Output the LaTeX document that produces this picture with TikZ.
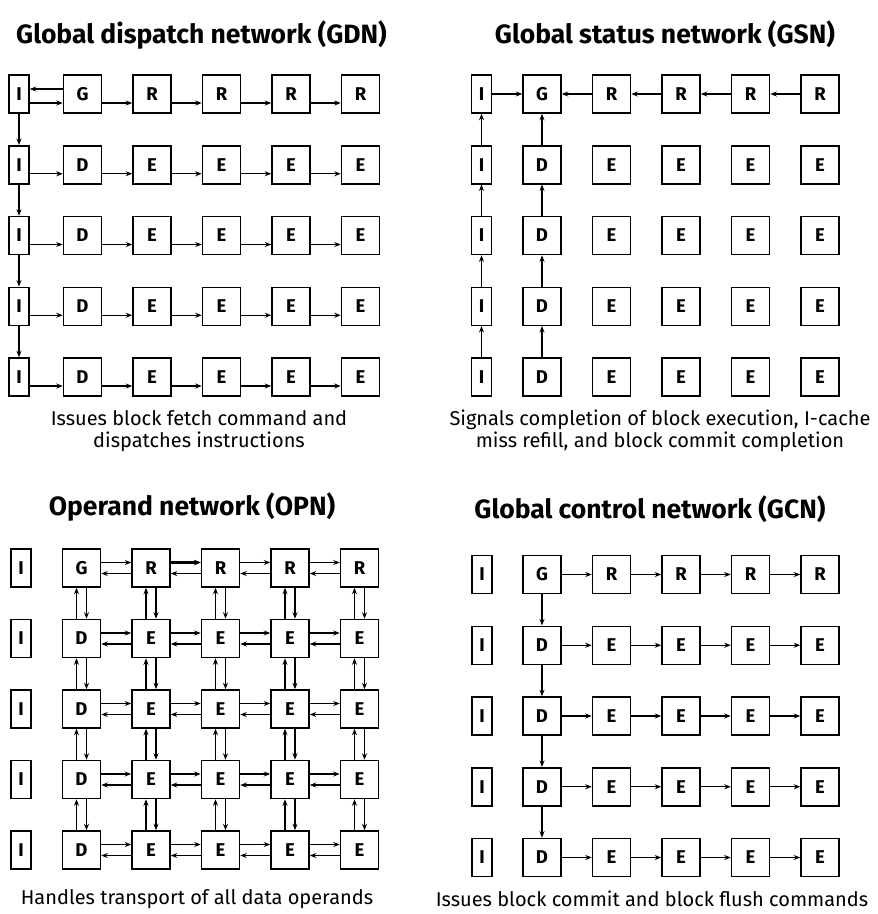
\documentclass[tikz,border=0pt]{standalone}
\usepackage{fontspec}
\setmainfont{Fira Sans}
\usetikzlibrary{arrows.meta}

% one 5x6 grid of tiles: prefix, x of I column, x of first tile, y of first row, row pitch
\newcommand{\tilegrid}[5]{%
  \foreach \r in {1,...,5} {
    \pgfmathsetmacro{\rowy}{#4+(\r-1)*#5}
    \node[itile] (#1-\r-0) at (#2,\rowy) {I};
    \foreach \c in {1,...,5} {
      \pgfmathsetmacro{\colx}{#3+(\c-1)*69.5}
      \node[tile] (#1-\r-\c) at (\colx,\rowy)
        {\ifnum\r=1 \ifnum\c=1 G\else R\fi\else\ifnum\c=1 D\else E\fi\fi};
    }
  }%
}

\begin{document}
\begin{tikzpicture}[
  x=1pt, y=-1pt,
  tile/.style    = {rectangle, draw, line width=1.5pt, minimum width=38pt, minimum height=38pt,
                    inner sep=0pt, font=\fontsize{18.5}{18.5}\selectfont\bfseries},
  itile/.style   = {tile, minimum width=20pt},
  arrow/.style   = {-{Stealth[length=6.5pt, width=5pt]}, line width=1.2pt},
  heavy/.style   = {arrow, line width=2.4pt},
  title/.style   = {font=\fontsize{26.5}{30}\selectfont\bfseries, anchor=base},
  caption/.style = {font=\fontsize{20}{22}\selectfont, align=center},
]
  \useasboundingbox[fill=white] (0,0) rectangle (878,914);

  % titles and captions
  \node[title] (gdn-title) at (201.5,43)  {Global dispatch network (GDN)};
  \node[title] (gsn-title) at (665,43)    {Global status network (GSN)};
  \node[title] (opn-title) at (192,515)   {Operand network (OPN)};
  \node[title] (gcn-title) at (650,518)   {Global control network (GCN)};
  \node[caption] (gdn-text) at (199,431)  {Issues block fetch command and\\dispatches instructions};
  \node[caption] (gsn-text) at (660,431)  {Signals completion of block execution, I-cache\\miss refill, and block commit completion};
  \node[caption] (opn-text) at (197,899)  {Handles transport of all data operands};
  \node[caption] (gcn-text) at (652,899)  {Issues block commit and block flush commands};

  % global dispatch network
  \tilegrid{gdn}{19}{82.5}{94}{70.75}
  \foreach \r in {1,...,5} {
    \foreach \c in {0,...,4} {
      \pgfmathtruncatemacro{\nxt}{\c+1}
      \draw[arrow] ([yshift=-9pt]gdn-\r-\c.east) -- ([yshift=-9pt]gdn-\r-\nxt.west);
    }
  }
  \draw[arrow] ([yshift=5pt]gdn-1-1.west) -- ([yshift=5pt]gdn-1-0.east);
  \foreach \r in {1,...,4} {
    \pgfmathtruncatemacro{\nxt}{\r+1}
    \draw[arrow] (gdn-\r-0) -- (gdn-\nxt-0);
  }

  % global status network
  \tilegrid{gsn}{481.5}{542}{94}{70.75}
  \draw[arrow] (gsn-1-0) -- (gsn-1-1);
  \foreach \c in {1,...,4} {
    \pgfmathtruncatemacro{\nxt}{\c+1}
    \draw[arrow] (gsn-1-\nxt) -- (gsn-1-\c);
  }
  \foreach \r in {1,...,4} {
    \pgfmathtruncatemacro{\nxt}{\r+1}
    \draw[arrow] (gsn-\nxt-0) -- (gsn-\r-0);
    \draw[arrow] (gsn-\nxt-1) -- (gsn-\r-1);
  }

  % operand network
  \tilegrid{opn}{21}{81.5}{568}{70.5}
  \foreach \r in {1,...,5} {
    \foreach \c in {1,...,4} {
      \pgfmathtruncatemacro{\nxt}{\c+1}
      \draw[arrow] ([yshift=5.5pt]opn-\r-\c.east) -- ([yshift=5.5pt]opn-\r-\nxt.west);
      \draw[arrow] ([yshift=-5.5pt]opn-\r-\nxt.west) -- ([yshift=-5.5pt]opn-\r-\c.east);
    }
  }
  \foreach \r in {1,...,4} {
    \foreach \c in {1,...,5} {
      \pgfmathtruncatemacro{\nxt}{\r+1}
      \draw[arrow] ([xshift=-5pt]opn-\nxt-\c.north) -- ([xshift=-5pt]opn-\r-\c.south);
      \draw[arrow] ([xshift=5pt]opn-\r-\c.south) -- ([xshift=5pt]opn-\nxt-\c.north);
    }
  }
  \draw[heavy] ([yshift=5.5pt]opn-1-2.east) -- ([yshift=5.5pt]opn-1-3.west);

  % global control network
  \tilegrid{gcn}{482}{542}{574.5}{70.75}
  \foreach \r in {1,...,5} {
    \foreach \c in {1,...,4} {
      \pgfmathtruncatemacro{\nxt}{\c+1}
      \draw[arrow] (gcn-\r-\c) -- (gcn-\r-\nxt);
    }
  }
  \foreach \r in {1,...,4} {
    \pgfmathtruncatemacro{\nxt}{\r+1}
    \draw[arrow] (gcn-\r-1) -- (gcn-\nxt-1);
  }
\end{tikzpicture}
\end{document}
